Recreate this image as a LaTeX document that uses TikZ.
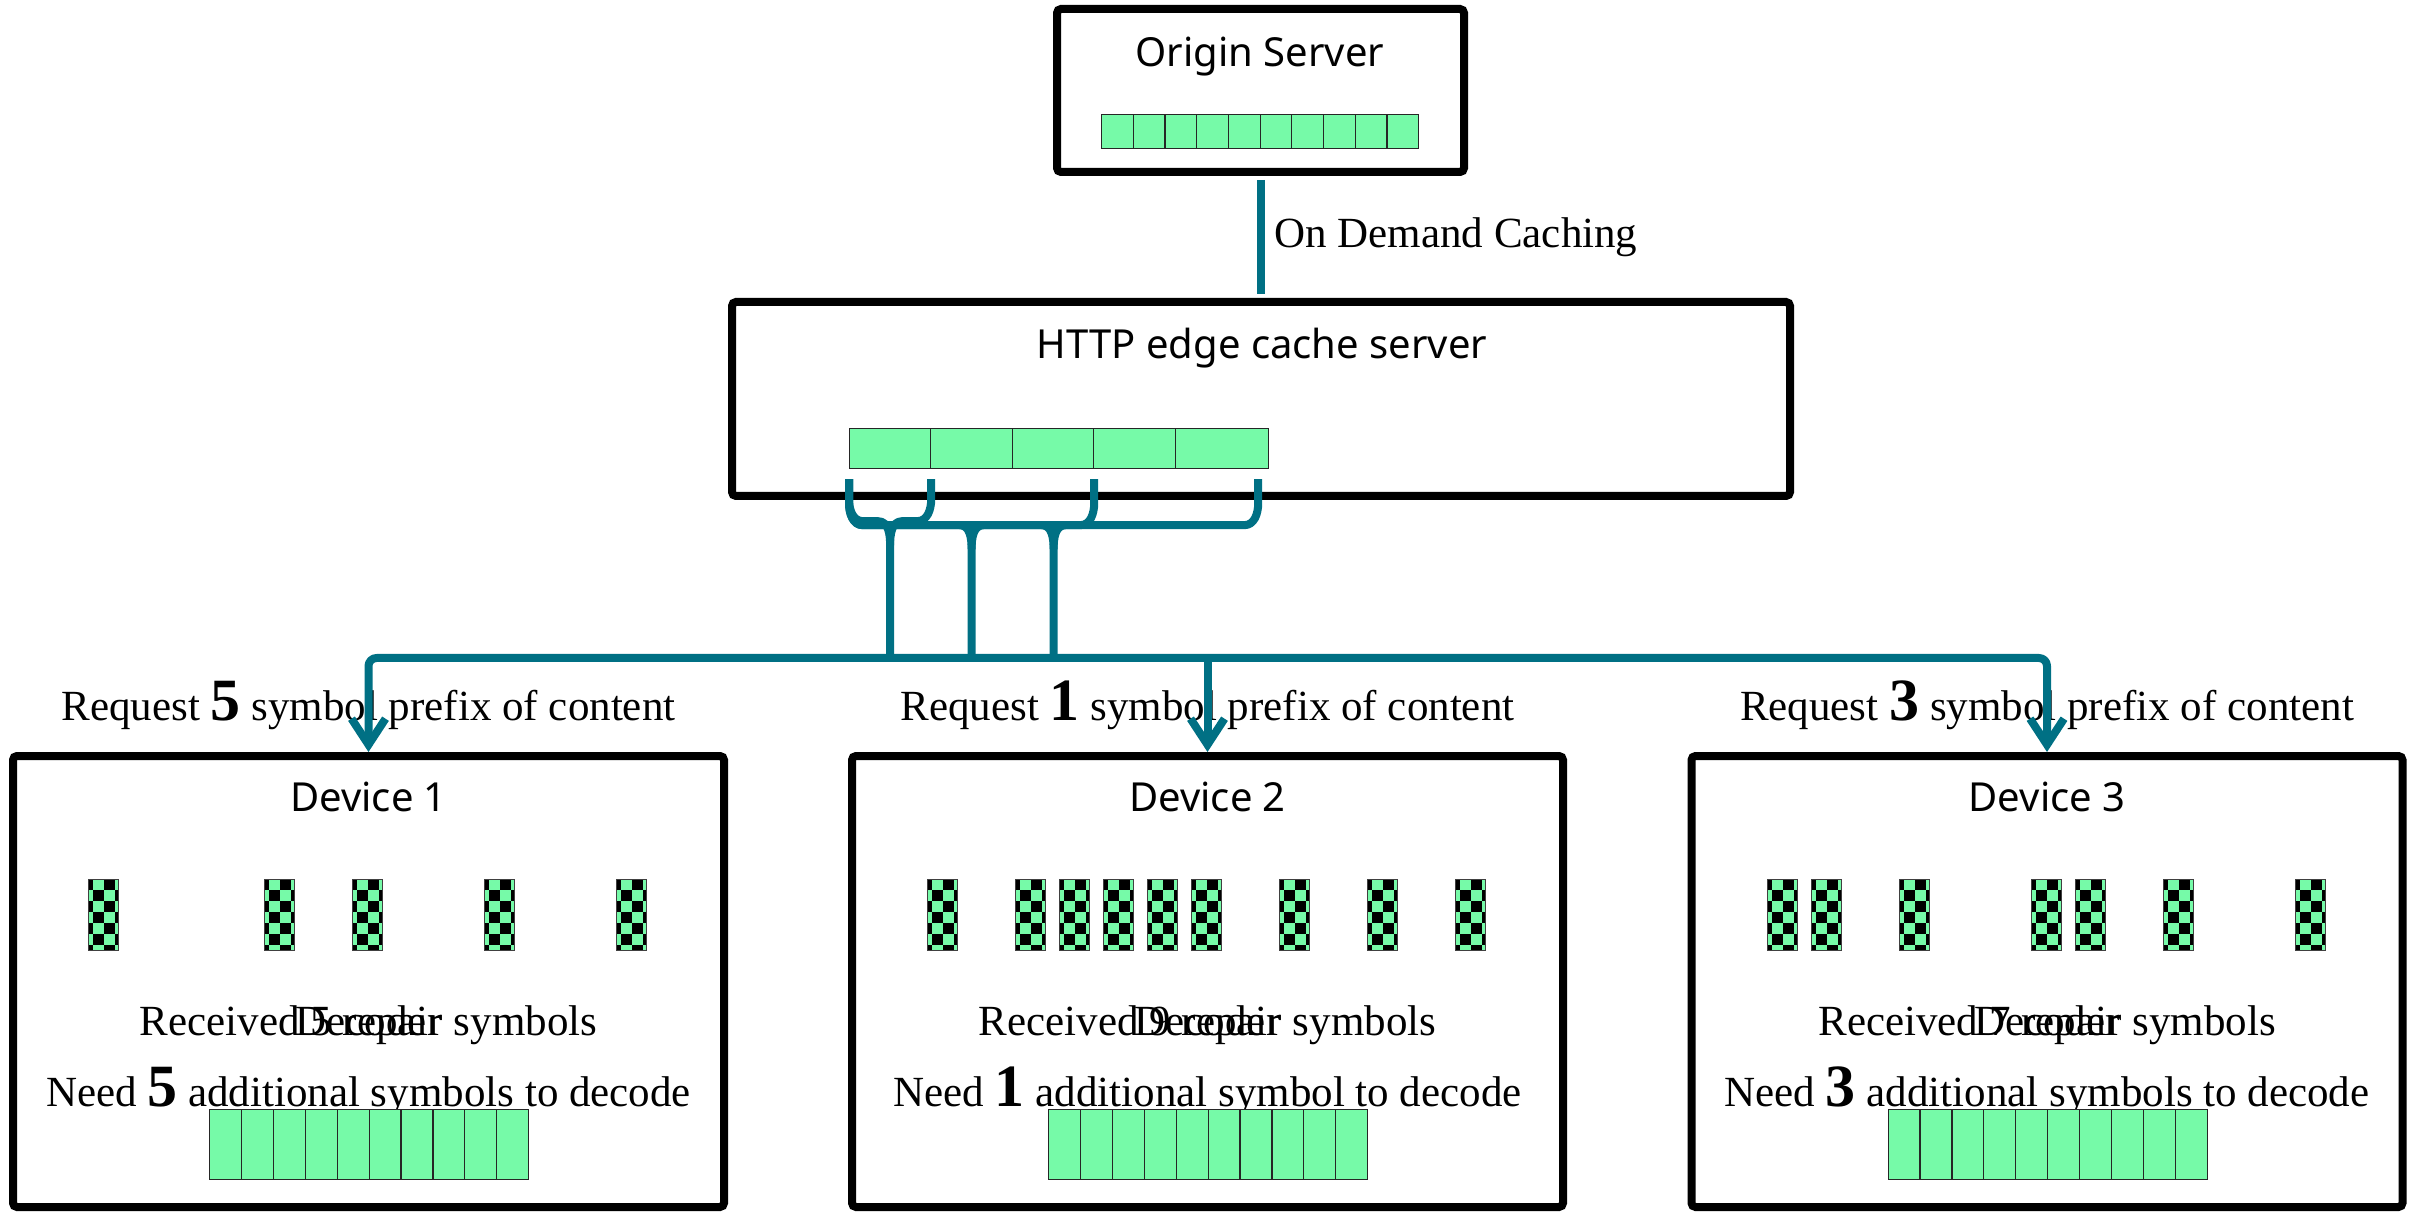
\documentclass[tikz,border=0pt]{standalone}
\usepackage{fontspec}
\setmainfont{Liberation Serif}
\newfontfamily\uifont{Noto Sans}
\usetikzlibrary{arrows.meta,calc}

\definecolor{symgreen}{RGB}{118,250,168}
\definecolor{linkteal}{RGB}{0,112,132}

\tikzset{
  frame/.style={draw=black, line width=4pt, rounded corners=2pt, fill=white, inner sep=0pt},
  title/.style={font=\uifont\fontsize{20}{24}\selectfont, anchor=base, inner sep=0pt},
  caption/.style={font=\fontsize{21.5}{26}\selectfont, anchor=base, inner sep=0pt},
  cell/.style={draw=black!85, line width=0.6pt, fill=symgreen, inner sep=0pt, anchor=north west},
  link/.style={draw=linkteal, line width=4pt, line join=round},
  barb/.tip={Straight Barb[length=13pt,width=17pt]},
  symbol/.style={rectangle, minimum width=15pt, minimum height=35.5pt, inner sep=0pt,
    fill=symgreen, draw=black!75, line width=0.5pt,
    path picture={
      \foreach \i in {0,...,3} \foreach \j in {0,...,6} {
        \pgfmathtruncatemacro\chk{mod(\i+\j,2)}
        \ifnum\chk=0
          \fill[black] ($(path picture bounding box.north west)+(\i*5.5pt-3.25pt,-\j*5.5pt)$) rectangle ++(5.5pt,-5.5pt);
        \fi
      }
    }},
}

% large bold count inside a caption
\newcommand\bignum[1]{{\fontsize{30}{30}\selectfont\bfseries #1}}

% curly brace under a prefix of the cached symbols, dropping to the request bus
% #1 left end, #2 right end, #3 depth of the brace bar below its hooks
\newcommand\prefixbrace[3]{%
  \coordinate (pbL) at ($#1+(0,10)$);
  \coordinate (pbR) at ($#2+(0,10)$);
  \coordinate (pbM) at ($(pbL)!0.5!(pbR)$);
  \draw[link] (pbL) -- ++(0,#3-22) to[out=-90,in=180] ++(14,22)
    -- ($(pbM)+(-12,#3)$) to[out=0,in=90] ($(pbM)+(0,#3+24)$) -- (pbM |- bus2);
  \draw[link] (pbR) -- ++(0,#3-22) to[out=-90,in=0] ++(-14,22)
    -- ($(pbM)+(12,#3)$) to[out=180,in=90] ($(pbM)+(0,#3+24)$);
}

\begin{document}
\begin{tikzpicture}[x=0.5pt,y=-0.5pt]
\useasboundingbox (0,0) rectangle (2415,1213);

% servers
\node[frame, minimum width=203.5pt, minimum height=81.5pt] (origin) at (1260.5,90.5) {};
\node[frame, minimum width=529pt, minimum height=97pt] (edge) at (1261,399) {};
\node[title] (origintitle) at (1260,67) {Origin Server};
\node[title] (edgetitle) at (1262,359) {HTTP edge cache server};

% full content held by the origin
\foreach \k in {0,...,9}
  \node[cell, minimum width=15.85pt, minimum height=17pt] (o\k) at ({1101+31.7*\k},114) {};

% cached symbols at the edge
\foreach \x/\w [count=\n] in {849/40.5, 930/41, 1012/40.5, 1093/41, 1175/46.5}
  \node[cell, minimum width=\w pt, minimum height=20pt] (s\n) at (\x,428) {};

% origin to edge
\draw[link, shorten <=2pt, shorten >=2pt] (origin.south) -- (origin.south |- edge.north);
\node[caption, anchor=base west] (demand) at (1274,248) {On Demand Caching};

% devices
\foreach \c/\n/\r/\k/\word/\slots in {
    368.5/1/5/5/symbols/{0,4,6,9,12},
    1207.5/2/1/9/symbol/{0,2,3,4,5,6,8,10,12},
    2047/3/3/7/symbols/{0,1,3,6,7,9,12}} {
  \node[frame, minimum width=355.5pt, minimum height=225.5pt] (dev\n) at (\c,981.5) {};
  \node[title] (devtitle\n) at (\c,811) {Device \n};
  \node[caption] (req\n) at (\c,720) {Request \bignum{\r} symbol prefix of content};
  \foreach \s in \slots
    \node[symbol] (sym\n-\s) at ({\c-265+44*\s},914.5) {};
  \node[caption] (rcv\n) at (\c,1035) {Received \k\ repair symbols};
  \node[caption] (dec\n) at (\c,1035) {Decoder};
  \node[caption] (need\n) at (\c,1106) {Need \bignum{\r} additional \word\ to decode};
  \foreach \j in {0,...,9}
    \node[cell, minimum width=15.95pt, minimum height=35pt] (bar\n-\j) at ({\c-159.5+31.9*\j},1109) {};
}

% request bus to the devices
\path (dev1.north) ++(0,-94) coordinate (bus1);
\path (dev2.north) ++(0,-94) coordinate (bus2);
\path (dev3.north) ++(0,-94) coordinate (bus3);
\draw[link, rounded corners=4pt, barb-barb] (dev1.north) -- (bus1) -- (bus3) -- (dev3.north);
\draw[link, -barb] (bus2) -- (dev2.north);

% prefixes of 1, 3 and 5 cached symbols
\prefixbrace{(s1.south west)}{(s1.south east)}{42}
\prefixbrace{(s1.south west)}{(s3.south east)}{46}
\prefixbrace{(s1.south west)}{(s5.south east)+(-11,0)}{46}
\end{tikzpicture}
\end{document}
